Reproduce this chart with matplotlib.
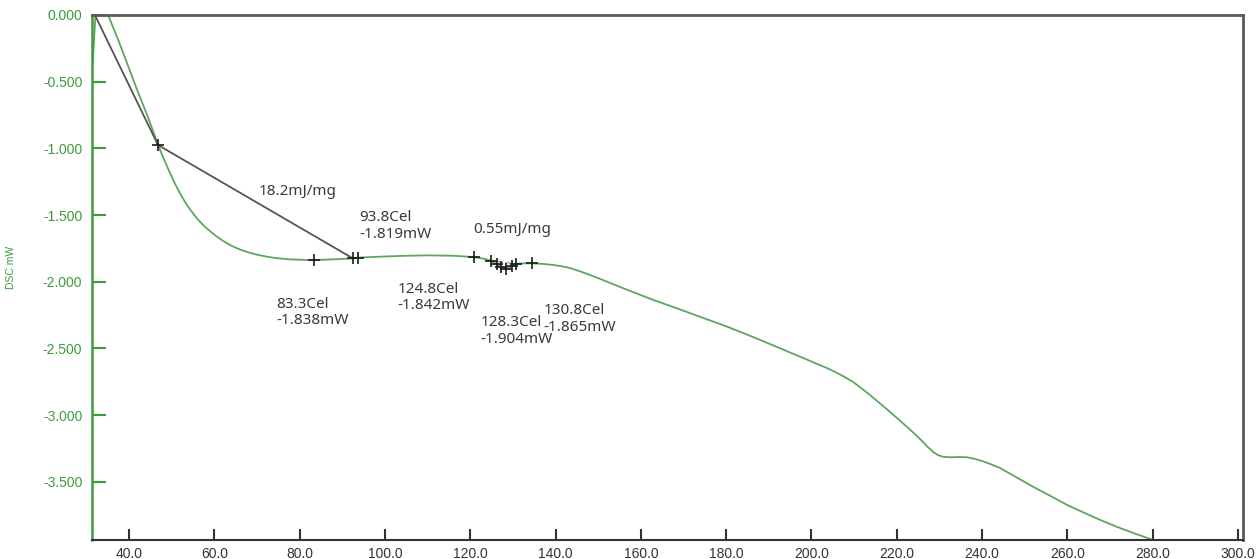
from matplotlib import pyplot as plt

# DSC trace (temperature in Cel, signal in mW)
temp = [31.5, 32.3, 33.6, 35.1, 37.5, 40.0, 42.0, 44.5, 46.8, 48.0, 49.2, 50.3,
        51.3, 52.3, 53.3, 54.3, 55.3, 56.3, 57.3, 58.3, 60.2, 62.0, 64.0, 66.0,
        68.0, 70.0, 72.0, 74.0, 78.0, 83.3, 88.0, 92.5, 93.8, 98.9, 104.0, 110.0,
        116.0, 120.8, 123.0, 124.8, 126.2, 127.3, 128.3, 129.7, 130.8, 132.5,
        134.5, 137.0, 139.4, 141.5, 143.4, 145.4, 147.4, 149.3, 151.1, 157.0,
        162.9, 168.5, 174.6, 180.5, 186.3, 192.0, 198.0, 204.0, 207.0, 209.8,
        213.3, 216.8, 220.0, 223.1, 225.5, 227.3, 228.6, 229.7, 230.8, 232.5,
        234.5, 236.5, 238.3, 240.2, 242.2, 244.2, 248.0, 252.0, 256.0, 259.9,
        263.8, 267.7, 271.5, 275.4, 280.1]
dsc = [-0.35, 0.08, 0.07, 0.0, -0.19, -0.40, -0.57, -0.77, -0.975, -1.067, -1.155,
       -1.233, -1.298, -1.357, -1.41, -1.457, -1.50, -1.538, -1.572, -1.602, -1.652,
       -1.693, -1.730, -1.758, -1.780, -1.797, -1.810, -1.821, -1.833, -1.838,
       -1.832, -1.825, -1.819, -1.812, -1.806, -1.802, -1.805, -1.815, -1.826,
       -1.842, -1.868, -1.888, -1.904, -1.885, -1.865, -1.862, -1.862, -1.866,
       -1.874, -1.884, -1.897, -1.918, -1.941, -1.964, -1.987, -2.063, -2.136,
       -2.20, -2.271, -2.34, -2.414, -2.49, -2.571, -2.652, -2.700, -2.752,
       -2.838, -2.932, -3.02, -3.108, -3.18, -3.24, -3.278, -3.300, -3.312,
       -3.316, -3.314, -3.316, -3.328, -3.346, -3.37, -3.396, -3.465, -3.538,
       -3.605, -3.673, -3.73, -3.786, -3.836, -3.883, -3.936]

# baseline of the first peak
base1_t = [32.0, 46.8, 92.5]
base1_v = [0.0, -0.975, -1.825]
# baseline of the small peak
base2_t = [124.8, 130.8]
base2_v = [-1.842, -1.865]

# "+" marks on the trace
mark_t = [46.8, 83.3, 92.5, 93.8, 120.8, 124.8, 126.2, 127.3, 128.3, 129.7, 130.8, 134.5]
mark_v = [-0.975, -1.838, -1.825, -1.819, -1.815, -1.842, -1.868, -1.888, -1.904,
          -1.885, -1.865, -1.862]

# annotation texts and where they sit
notes = ['18.2mJ/mg', '93.8Cel\n-1.819mW', '0.55mJ/mg', '83.3Cel\n-1.838mW',
         '124.8Cel\n-1.842mW', '128.3Cel\n-1.904mW', '130.8Cel\n-1.865mW']
note_t = [70.4, 94.0, 120.7, 74.6, 103.0, 122.45, 137.2]
note_v = [-1.325, -1.582, -1.607, -2.230, -2.118, -2.371, -2.277]

green = '#5ea65e'
axis_green = '#3d9b3d'

fig = plt.figure(figsize=(12.59, 5.59), dpi=100)
ax = fig.add_axes([0.0731, 0.034, 0.9142, 0.9392])

ax.plot(temp, dsc, color=green, lw=1.3, zorder=2)
ax.plot(base1_t, base1_v, color='#555555', lw=1.3, zorder=3)
ax.plot(base2_t, base2_v, color='#aaaaaa', lw=1.0, ls='--', zorder=3)
ax.plot(mark_t, mark_v, ls='none', marker='+', ms=9, mew=1.2, color='#1a1a1a', zorder=4)

for txt, t, v in zip(notes, note_t, note_v):
    ax.text(t, v, txt, fontsize=11, family='Noto Sans', color='#3a3a3a',
            ha='left', va='center', linespacing=1.15)

ax.set_xlim(31.33, 301.17)
ax.set_ylim(-3.936, 0.0)
ax.set_xticks(range(40, 301, 20))
ax.set_xticklabels(['%.1f' % t for t in range(40, 301, 20)])
ax.set_yticks([0.0, -0.5, -1.0, -1.5, -2.0, -2.5, -3.0, -3.5])
ax.set_yticklabels(['0.000', '-0.500', '-1.000', '-1.500', '-2.000', '-2.500',
                    '-3.000', '-3.500'])

ax.tick_params(axis='x', direction='in', length=8, width=1.5, color='#333333',
               labelsize=10, labelcolor='#333333', pad=5)
ax.tick_params(axis='y', direction='in', length=10, width=1.5, color=axis_green,
               labelsize=10, labelcolor=axis_green, pad=7)
for lab in ax.get_xticklabels() + ax.get_yticklabels():
    lab.set_family('Liberation Sans')

ax.spines['left'].set_color(axis_green)
ax.spines['left'].set_linewidth(1.8)
ax.spines['top'].set_color('#5a5a5a')
ax.spines['top'].set_linewidth(2.0)
ax.spines['right'].set_color('#5a5a5a')
ax.spines['right'].set_linewidth(2.0)
ax.spines['bottom'].set_color('#333333')
ax.spines['bottom'].set_linewidth(1.5)

ax.set_ylabel('DSC mW', color=axis_green, fontsize=7.5, family='Liberation Sans')
ax.yaxis.set_label_coords(-0.066, 0.52)

fig.savefig('out.png', dpi=100)
